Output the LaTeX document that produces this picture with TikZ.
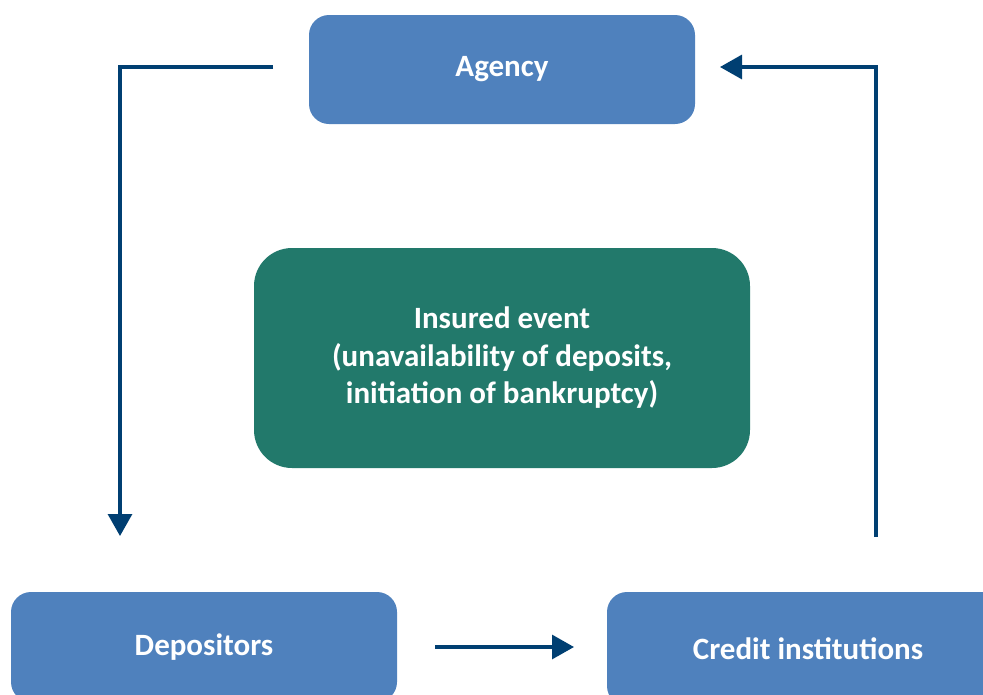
\documentclass[tikz,border=0pt]{standalone}
\usepackage{fontspec}
\setmainfont{Carlito}
\usetikzlibrary{arrows.meta}
\definecolor{boxblue}{HTML}{4F81BD}
\definecolor{eventgreen}{HTML}{22796B}
\definecolor{flownavy}{HTML}{003F72}
\begin{document}
\begin{tikzpicture}[x=1pt,y=-1pt,
  party/.style={fill=boxblue, rounded corners=20pt, text=white,
    font=\bfseries\fontsize{31}{37}\selectfont, align=center, inner sep=0pt},
  eventbox/.style={fill=eventgreen, rounded corners=38pt, text=white,
    font=\bfseries\fontsize{31}{37.5}\selectfont, align=center, inner sep=0pt,
    minimum width=496pt, minimum height=220pt},
  flow/.style={draw=flownavy, line width=3.2pt,
    -{Triangle[length=22pt,width=24pt]}}]
\clip (0,0) rectangle (983,694);
\useasboundingbox (0,0) rectangle (983,694);
% parties
\node[party, minimum width=386pt, minimum height=109pt] (agency) at (502,69.5) {Agency};
\node[party, minimum width=386pt, minimum height=110pt] (dep) at (204,647) {Depositors};
\node[party, minimum width=402pt, minimum height=114pt] (credit) at (808,649) {Credit institutions};
% insured event
\node[eventbox] (event) at (502,358) {Insured event\\(unavailability of deposits,\\initiation of bankruptcy)};
% connector ends
\coordinate (aL) at (273,67);
\coordinate (dT) at (120,536);
\coordinate (cT) at (876,537);
\coordinate (aR) at (720,67);
\coordinate (dR) at (435,647);
\coordinate (cL) at (574,647);
% money flows
\draw[flow] (aL) -| (dT);
\draw[flow] (cT) |- (aR);
\draw[flow] (dR) -- (cL);
\end{tikzpicture}
\end{document}
